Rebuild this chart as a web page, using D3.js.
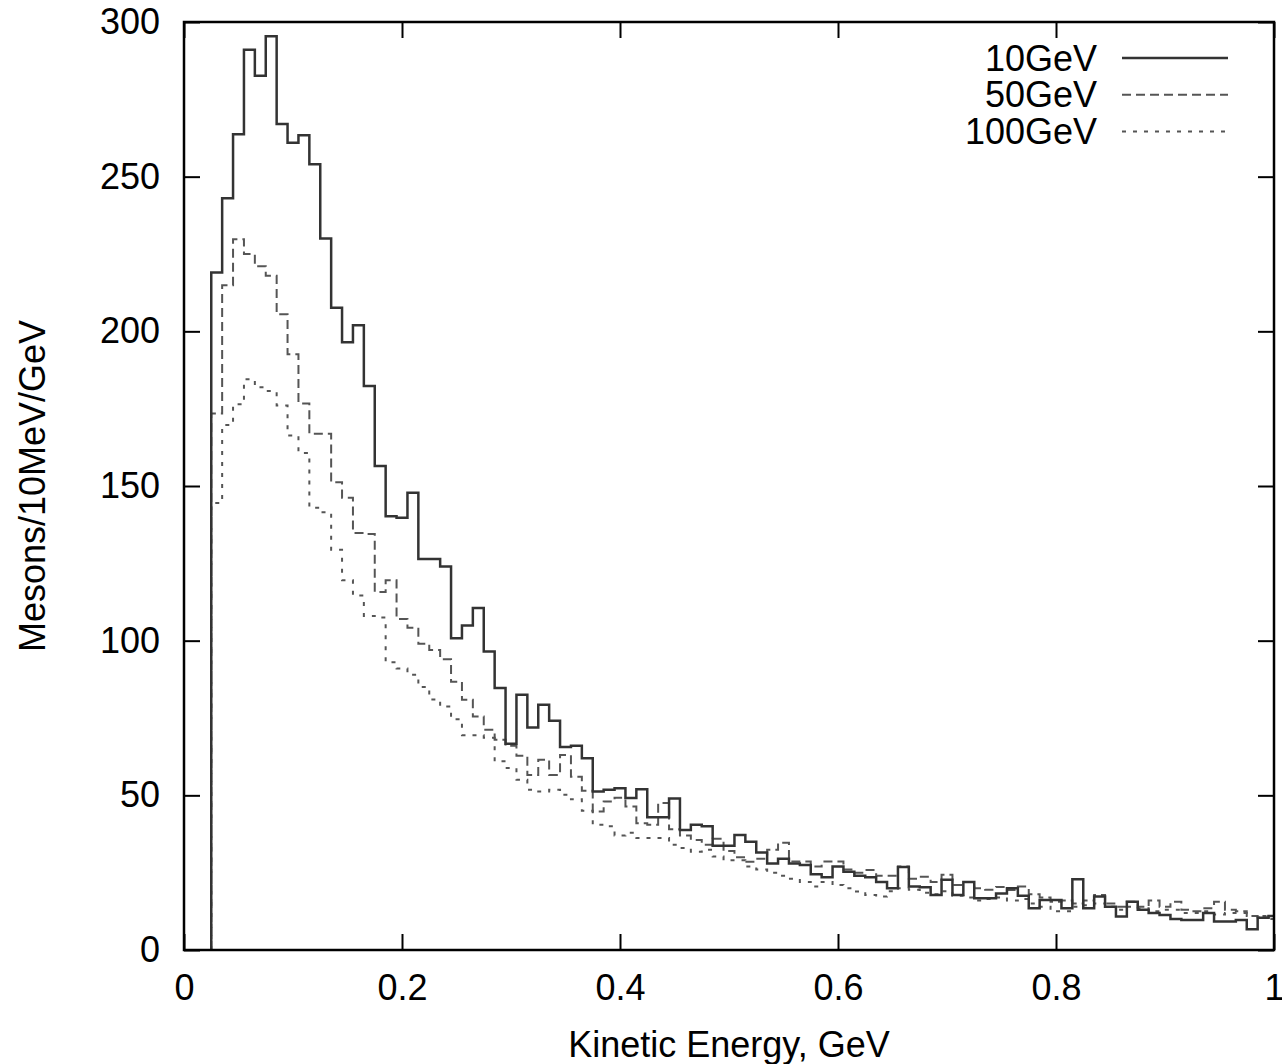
<!DOCTYPE html>
<html>
<head>
<meta charset="utf-8">
<script src="https://cdn.jsdelivr.net/npm/d3@7"></script>
<style>
  body { margin: 0; background: #fff; }
  text { font-family: "Liberation Sans", Arial, sans-serif; fill: #000; }
</style>
</head>
<body>
<div id="chart"></div>
<script>
// bins of 10 MeV, first bin starts at 0.025 GeV
const binStart = 0.025,
    binWidth = 0.01;

const seriesNames = ["10GeV", "50GeV", "100GeV"];

const values10 = [219, 243, 263.7, 291, 282.6, 295.4, 267, 261, 263.4, 254,
    230, 207.6, 196.5, 202, 182.3, 156.5, 140.2, 139.7, 147.8, 126.4,
    126.4, 124, 100.8, 104.9, 110.6, 96.5, 84.7, 66.7, 82.5, 71.9,
    79.3, 74.1, 65.6, 66, 62, 51.2, 51.8, 52.3, 49.1, 52,
    42.9, 42.9, 49, 38.8, 40.5, 40, 33.7, 33.7, 37.2, 35,
    31.5, 28, 29.5, 28, 27.5, 24.5, 23.5, 27, 25.3, 24,
    23.5, 22, 20, 26.8, 20.5, 20.3, 17.8, 22.7, 17.8, 22,
    16.7, 16.7, 18.3, 20, 17.5, 13.5, 16.2, 16.2, 13.5, 22.9,
    13.5, 17.3, 14, 10.8, 15.6, 13, 12, 11.3, 10, 9.7,
    9.7, 12, 9.2, 9.2, 9.7, 6.7, 10.4, 11];

const values50 = [173.4, 214.9, 229.8, 225, 221, 218, 205.5, 192.6, 176.7, 166.9,
    166.9, 151.2, 146.2, 134.8, 134.5, 115.7, 119.5, 107, 104.2, 99,
    97, 94, 86.7, 80.9, 75.5, 71.2, 68, 66, 62.8, 56.6,
    61.5, 56.6, 63, 56, 51.5, 44.8, 48, 49.2, 46.4, 41,
    40.5, 47.5, 39, 37, 35.6, 34, 36, 32, 30, 28.5,
    29.5, 32.4, 34.7, 28.6, 28.6, 27, 28.6, 28.6, 26, 25,
    25.9, 24, 24, 27, 23, 23.7, 22, 24.3, 21, 22,
    20, 19.5, 20.4, 19.4, 20.5, 18, 17, 15.6, 16, 15,
    16, 17.8, 15, 14, 15.6, 14, 16, 14, 15.6, 13,
    12.5, 13.5, 15.6, 13, 12.5, 11, 10.5, 11];

const values100 = [144.5, 169.7, 176.4, 184.5, 181.9, 180.7, 176, 166.3, 160.7, 143,
    141.5, 129.4, 119.5, 114.6, 108, 107.5, 93, 91, 89, 85,
    81, 78.7, 74.6, 69.4, 69.4, 68.6, 61, 58.8, 55, 51.8,
    51.2, 51.8, 50.2, 48.7, 45, 40.5, 40, 37, 37.9, 36.2,
    36.2, 36.2, 34, 33, 31.8, 32.4, 30.2, 29, 29, 27,
    26, 25, 24, 23, 22, 20.5, 22, 21, 20, 18.9,
    17.8, 17.3, 19, 20, 19.5, 18.5, 18, 19, 17.5, 17,
    16, 16.5, 17, 16, 16.5, 15, 14, 12.5, 12.5, 14,
    14.5, 15, 14, 13, 14, 13.5, 12.5, 13, 13, 12,
    12, 12.5, 11.5, 12, 12, 11, 11, 10];

const xTicks = [0, 0.2, 0.4, 0.6, 0.8, 1],
    xTickLabels = ["0", "0.2", "0.4", "0.6", "0.8", "1"],
    yTicks = [0, 50, 100, 150, 200, 250, 300];

const width = 1282,
    height = 1064,
    margin = {top: 22, right: 8, bottom: 114, left: 184},
    fontSize = 36,
    tickLen = 16;

const svg = d3.select("#chart").append("svg")
    .attr("width", width)
    .attr("height", height);

const x = d3.scaleLinear().domain([0, 1]).range([margin.left, width - margin.right]);
const y = d3.scaleLinear().domain([0, 300]).range([height - margin.bottom, margin.top]);

// clip pour que les histogrammes restent dans le cadre
svg.append("clipPath").attr("id", "clip")
    .append("rect")
    .attr("x", x(0)).attr("y", y(300))
    .attr("width", x(1) - x(0)).attr("height", y(0) - y(300));

const styles = [
    {dash: null, color: "#333", w: 2.5},
    {dash: "9,5", color: "#555", w: 2},
    {dash: "4,7", color: "#555", w: 2}
];

// construction des marches : bord gauche, puis une valeur par bin
function stepPoints(vals) {
    const pts = [[binStart, 0]];
    vals.forEach((v, i) => pts.push([binStart + i * binWidth, v]));
    pts.push([binStart + vals.length * binWidth, vals[vals.length - 1]]);
    return pts;
}

const line = d3.line()
    .x(d => x(d[0]))
    .y(d => y(d[1]))
    .curve(d3.curveStepAfter);

const plot = svg.append("g").attr("clip-path", "url(#clip)");
[values100, values50, values10].forEach((vals, k) => {
    const s = styles[2 - k];
    plot.append("path")
        .datum(stepPoints(vals))
        .attr("d", line)
        .attr("fill", "none")
        .attr("stroke", s.color)
        .attr("stroke-width", s.w)
        .attr("stroke-dasharray", s.dash);
});

// axes (ticks vers l'intérieur, en miroir)
const frame = svg.append("g");
frame.append("g")
    .attr("transform", "translate(0," + y(0) + ")")
    .call(d3.axisBottom(x).tickValues(xTicks).tickSize(-tickLen).tickPadding(24)
        .tickFormat((d, i) => xTickLabels[i]));
frame.append("g")
    .attr("transform", "translate(0," + y(300) + ")")
    .call(d3.axisTop(x).tickValues(xTicks).tickSize(-tickLen).tickFormat(""));
frame.append("g")
    .attr("transform", "translate(" + x(0) + ",0)")
    .call(d3.axisLeft(y).tickValues(yTicks).tickSize(-tickLen).tickPadding(24));
frame.append("g")
    .attr("transform", "translate(" + x(1) + ",0)")
    .call(d3.axisRight(y).tickValues(yTicks).tickSize(-tickLen).tickFormat(""));

frame.selectAll(".domain").remove();
frame.selectAll(".tick line").attr("stroke", "#000").attr("stroke-width", 2);
frame.selectAll(".tick text")
    .style("font-family", "'Liberation Sans', Arial, sans-serif")
    .style("font-size", fontSize + "px")
    .attr("fill", "#000");

svg.append("rect")
    .attr("x", x(0)).attr("y", y(300))
    .attr("width", x(1) - x(0)).attr("height", y(0) - y(300))
    .attr("fill", "none")
    .attr("stroke", "#000")
    .attr("stroke-width", 2.5);

// titres des axes
svg.append("text")
    .attr("x", (x(0) + x(1)) / 2)
    .attr("y", 1057)
    .attr("text-anchor", "middle")
    .style("font-size", fontSize + "px")
    .text("Kinetic Energy, GeV");

svg.append("text")
    .attr("transform", "translate(45," + (y(0) + y(300)) / 2 + ") rotate(-90)")
    .attr("text-anchor", "middle")
    .style("font-size", fontSize + "px")
    .text("Mesons/10MeV/GeV");

// légende
const legend = svg.append("g");
seriesNames.forEach((name, i) => {
    const ly = 58 + i * 36.7;
    legend.append("text")
        .attr("x", 1097)
        .attr("y", ly)
        .attr("dy", "0.35em")
        .attr("text-anchor", "end")
        .style("font-size", fontSize + "px")
        .text(name);
    legend.append("line")
        .attr("x1", 1122).attr("x2", 1228)
        .attr("y1", ly).attr("y2", ly)
        .attr("stroke", styles[i].color)
        .attr("stroke-width", styles[i].w)
        .attr("stroke-dasharray", styles[i].dash);
});
</script>
</body>
</html>
